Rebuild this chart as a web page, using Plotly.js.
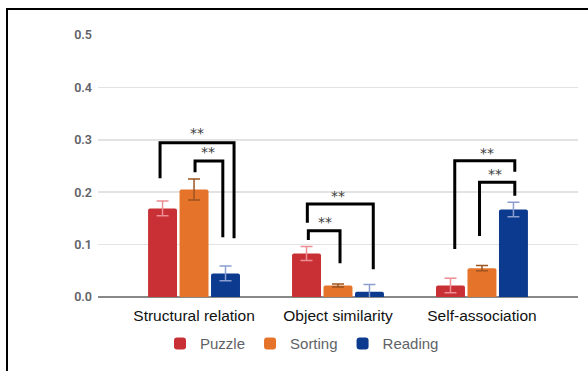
<!DOCTYPE html>
<html>
<head>
<meta charset="utf-8">
<script src="https://cdn.plot.ly/plotly-3.0.1.min.js"></script>
<style>
  html, body { margin: 0; padding: 0; background: #fff; }
  #wrap { position: relative; width: 588px; height: 371px; overflow: hidden; }
  #chart { position: absolute; left: 0; top: 0; width: 588px; height: 371px; }
  #frame { position: absolute; left: 6px; top: 8px; width: 600px; height: 400px;
           border-left: 2px solid #000; border-top: 2px solid #000; pointer-events: none; }
</style>
</head>
<body>
<div id="wrap">
  <div id="chart"></div>
  <div id="frame"></div>
</div>
<script>
// Categories and condition means with their error margins
const categories = ['Structural relation', 'Object similarity', 'Self-association'];
const seriesNames = ['Puzzle', 'Sorting', 'Reading'];
const puzzle = [0.169, 0.083, 0.022];
const sorting = [0.205, 0.022, 0.055];
const reading = [0.045, 0.010, 0.167];
const puzzleErr = [0.014, 0.0135, 0.014];
const sortingErr = [0.020, 0.003, 0.005];
const readingErr = [0.014, 0.014, 0.014];
const yTicks = [0, 0.1, 0.2, 0.3, 0.4, 0.5];

// Significance brackets: group index, left/right offsets (category units),
// bracket height, left and right foot heights, label and its placement
const bracketGroup = [0, 0, 1, 1, 2, 2];
const bracketLeft  = [-0.236, 0.007, -0.213, -0.206, -0.189, -0.017];
const bracketRight = [0.278, 0.200, 0.245, 0.014, 0.228, 0.228];
const bracketTop   = [0.2945, 0.2595, 0.1775, 0.1265, 0.260, 0.219];
const bracketFootL = [0.2265, 0.238, 0.1418, 0.1088, 0.0916, 0.1164];
const bracketFootR = [0.112, 0.114, 0.0529, 0.0643, 0.239, 0.1933];
const bracketLabel = ['**', '**', '**', '**', '**', '**'];
const labelOffset  = [0.019, 0.099, 0.002, -0.090, 0.036, 0.087];
const labelY       = [0.3124, 0.276, 0.1927, 0.1437, 0.2754, 0.234];

const barColors = ['#c93035', '#e5732a', '#0c3a8e'];
const errColors = ['#ec8e92', '#9c5420', '#8a9fd0'];
const values = [puzzle, sorting, reading];
const errors = [puzzleErr, sortingErr, readingErr];

const traces = seriesNames.map((name, i) => ({
  type: 'bar',
  name: name,
  x: categories,
  y: values[i],
  marker: { color: barColors[i], cornerradius: 2 },
  error_y: { type: 'data', array: errors[i], visible: true,
             color: errColors[i], thickness: 1.5, width: 6 },
  hoverinfo: 'skip'
}));

const shapes = bracketGroup.map((g, i) => ({
  type: 'path',
  xref: 'x', yref: 'y',
  path: 'M ' + (g + bracketLeft[i]) + ',' + bracketFootL[i] +
        ' L ' + (g + bracketLeft[i]) + ',' + bracketTop[i] +
        ' L ' + (g + bracketRight[i]) + ',' + bracketTop[i] +
        ' L ' + (g + bracketRight[i]) + ',' + bracketFootR[i],
  line: { color: '#000', width: 3 }
}));

const annotations = bracketGroup.map((g, i) => ({
  xref: 'x', yref: 'y',
  x: g + labelOffset[i],
  y: labelY[i],
  text: bracketLabel[i],
  showarrow: false,
  xanchor: 'center', yanchor: 'middle',
  yshift: 0,
  font: { family: 'DejaVu Sans, sans-serif', size: 14, color: '#3c3c3c' }
}));

const layout = {
  width: 588, height: 371,
  margin: { l: 98, r: 10, t: 35, b: 74 },
  paper_bgcolor: '#fff', plot_bgcolor: '#fff',
  barmode: 'group',
  bargap: 0.344,
  bargroupgap: 0.08,
  showlegend: true,
  legend: {
    orientation: 'h', x: 0.425, xanchor: 'center', y: -0.115, yanchor: 'top',
    font: { family: 'Liberation Sans, Arial, sans-serif', size: 15, color: '#5f6368' },
    itemclick: false, itemdoubleclick: false
  },
  xaxis: {
    type: 'category',
    range: [-0.667, 2.667],
    showgrid: false, zeroline: false, showline: false,
    ticks: '',
    ticklabelstandoff: 7,
    automargin: false,
    tickfont: { family: 'Liberation Sans, Arial, sans-serif', size: 15.5, color: '#111' },
    fixedrange: true
  },
  yaxis: {
    range: [0, 0.5],
    tickvals: yTicks,
    tickformat: '.1f',
    showgrid: true, gridcolor: '#e3e3e3', gridwidth: 1.5,
    zeroline: true, zerolinecolor: '#888', zerolinewidth: 1.5,
    showline: false, ticks: '',
    ticklabelstandoff: 5,
    automargin: false,
    tickfont: { family: 'Roboto, sans-serif', size: 12.5, color: '#5f6368', weight: 600 },
    fixedrange: true
  },
  shapes: shapes,
  annotations: annotations
};

Plotly.newPlot('chart', traces, layout, { displayModeBar: false, staticPlot: true });
</script>
</body>
</html>
